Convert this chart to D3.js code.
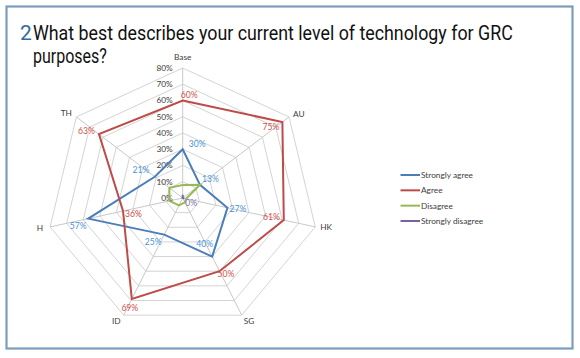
<!DOCTYPE html>
<html><head><meta charset="utf-8">
<script src="https://cdn.jsdelivr.net/npm/d3@7"></script>
<style>html,body{margin:0;padding:0;background:#fff;}svg{display:block;}</style>
</head><body>
<svg id="c" width="580" height="358"></svg>
<script>
const categories = ["Base","AU","HK","SG","ID","H","TH"];
const seriesNames = ["Strongly agree","Agree","Disagree","Strongly disagree"];
const stronglyAgree = [30,13,27,40,25,57,21];
const agree = [60,75,61,50,69,36,63];
const disagree = [8,13,2,3,5,8,10];
const stronglyDisagree = [2,0,1,0,0,0,0];
const tickValues = [0,10,20,30,40,50,60,70,80];
const tickLabels = ["0%","10%","20%","30%","40%","50%","60%","70%","80%"];

const svg = d3.select("#c");
const font = "Lato, 'Liberation Sans', sans-serif";

// frame
svg.append("rect").attr("x",6.5).attr("y",6.5).attr("width",566).attr("height",342)
  .attr("fill","none").attr("stroke","#7b9dbb").attr("stroke-width",2.2);

// title (condensed by horizontal scaling to the reference width)
const tf = "Roboto, 'Open Sans', sans-serif";
svg.append("text").attr("x",20).attr("y",40).attr("font-family",tf).attr("font-size",21)
  .attr("fill","#2f6d9c").text("2");
function condensedLine(txt, x, y, targetW){
  const t = svg.append("text").attr("font-family",tf).attr("font-size",21).attr("fill","#111").text(txt);
  const w = t.node().getComputedTextLength();
  t.attr("transform", `translate(${x},${y}) scale(${targetW/w},1)`);
}
condensedLine("What best describes your current level of technology for GRC", 33, 40, 480);
condensedLine("purposes?", 33, 63, 74);

// radar geometry
const cx = 182.7, cy = 198;
const rX = d3.scaleLinear().domain([0,80]).range([0,136]);
const rY = d3.scaleLinear().domain([0,80]).range([0,130]);
const ang = d3.scaleBand().domain(categories).range([0, 2*Math.PI]).paddingInner(0).paddingOuter(0);
const angleOf = c => ang(c);
function pt(c, v){ const a = angleOf(c); return [cx + Math.sin(a)*rX(v), cy - Math.cos(a)*rY(v)]; }

const g = svg.append("g");
// grid polygons
tickValues.slice(1).forEach(t => {
  g.append("polygon").attr("points", categories.map(c => pt(c,t).join(",")).join(" "))
    .attr("fill","none").attr("stroke","#d4d4d4").attr("stroke-width",1);
});
// spokes
categories.forEach(c => {
  const p = pt(c,80);
  g.append("line").attr("x1",cx).attr("y1",cy).attr("x2",p[0]).attr("y2",p[1])
    .attr("stroke","#c8c8c8").attr("stroke-width",1);
});
// tick labels
tickValues.forEach((t,i) => {
  g.append("text").attr("x",cx-10).attr("y",cy - rY(t)).attr("dy","0.35em")
    .attr("text-anchor","end").attr("font-family",font).attr("font-size",8.3)
    .attr("fill","#404040").text(tickLabels[i]);
});
// category labels
const catOff = {Base:[0,-11,"middle"],AU:[4,-3,"start"],HK:[5,0,"start"],SG:[2,6,"start"],
  ID:[-3,6,"end"],H:[-7,1,"end"],TH:[-4.5,-3.7,"end"]};
categories.forEach(c => {
  const p = pt(c,80), o = catOff[c];
  g.append("text").attr("x",p[0]+o[0]).attr("y",p[1]+o[1]).attr("dy","0.35em")
    .attr("text-anchor",o[2]).attr("font-family",font).attr("font-size",8.3)
    .attr("fill","#404040").text(c);
});

const colors = ["#4a7ebb","#be4b48","#98b954","#7d60a0"];
const labelColors = ["#4a94d4","#d2504c",null,"#8a6fb0"];
const allSeries = [stronglyAgree, agree, disagree, stronglyDisagree];
allSeries.forEach((s,i) => {
  g.append("polygon").attr("points", categories.map((c,j) => pt(c,s[j]).join(",")).join(" "))
    .attr("fill","none").attr("stroke",colors[i]).attr("stroke-width",2).attr("stroke-linejoin","miter");
});

// data labels placement (offset from point)
const blueOff = [[6,-5,"start"],[2,-6,"start"],[2,1,"start"],[-7.5,-13,"middle"],[-2.6,7,"end"],[-1.5,7.3,"end"],[-5.5,-7,"end"]];
const redOff = [[-2,-6,"start"],[-3,4.6,"end"],[-4,-3.4,"end"],[-2,3,"start"],[-2,8.7,"middle"],[2,3,"start"],[-4,-3.5,"end"]];
function labels(s, offs, col){
  categories.forEach((c,j) => {
    const p = pt(c,s[j]), o = offs[j];
    g.append("text").attr("x",p[0]+o[0]).attr("y",p[1]+o[1]).attr("dy","0.35em")
      .attr("text-anchor",o[2]).attr("font-family",font).attr("font-size",8.6)
      .attr("fill",col).text(s[j]+"%");
  });
}
labels(stronglyAgree, blueOff, labelColors[0]);
labels(agree, redOff, labelColors[1]);
// single purple label at SG
{ const p = pt("SG", stronglyDisagree[3]);
  g.append("text").attr("x",p[0]+2.5).attr("y",p[1]+5.3).attr("dy","0.35em")
    .attr("font-family",font).attr("font-size",8.6).attr("fill",labelColors[3])
    .text(stronglyDisagree[3]+"%"); }

// legend
const ly = d3.scalePoint().domain(seriesNames).range([175,221]);
seriesNames.forEach((n,i) => {
  svg.append("line").attr("x1",400.5).attr("x2",420).attr("y1",ly(n)).attr("y2",ly(n))
    .attr("stroke",colors[i]).attr("stroke-width",2);
  svg.append("text").attr("x",421).attr("y",ly(n)).attr("dy","0.35em")
    .attr("font-family",font).attr("font-size",8.3).attr("fill","#404040").text(n);
});
</script>
</body></html>
